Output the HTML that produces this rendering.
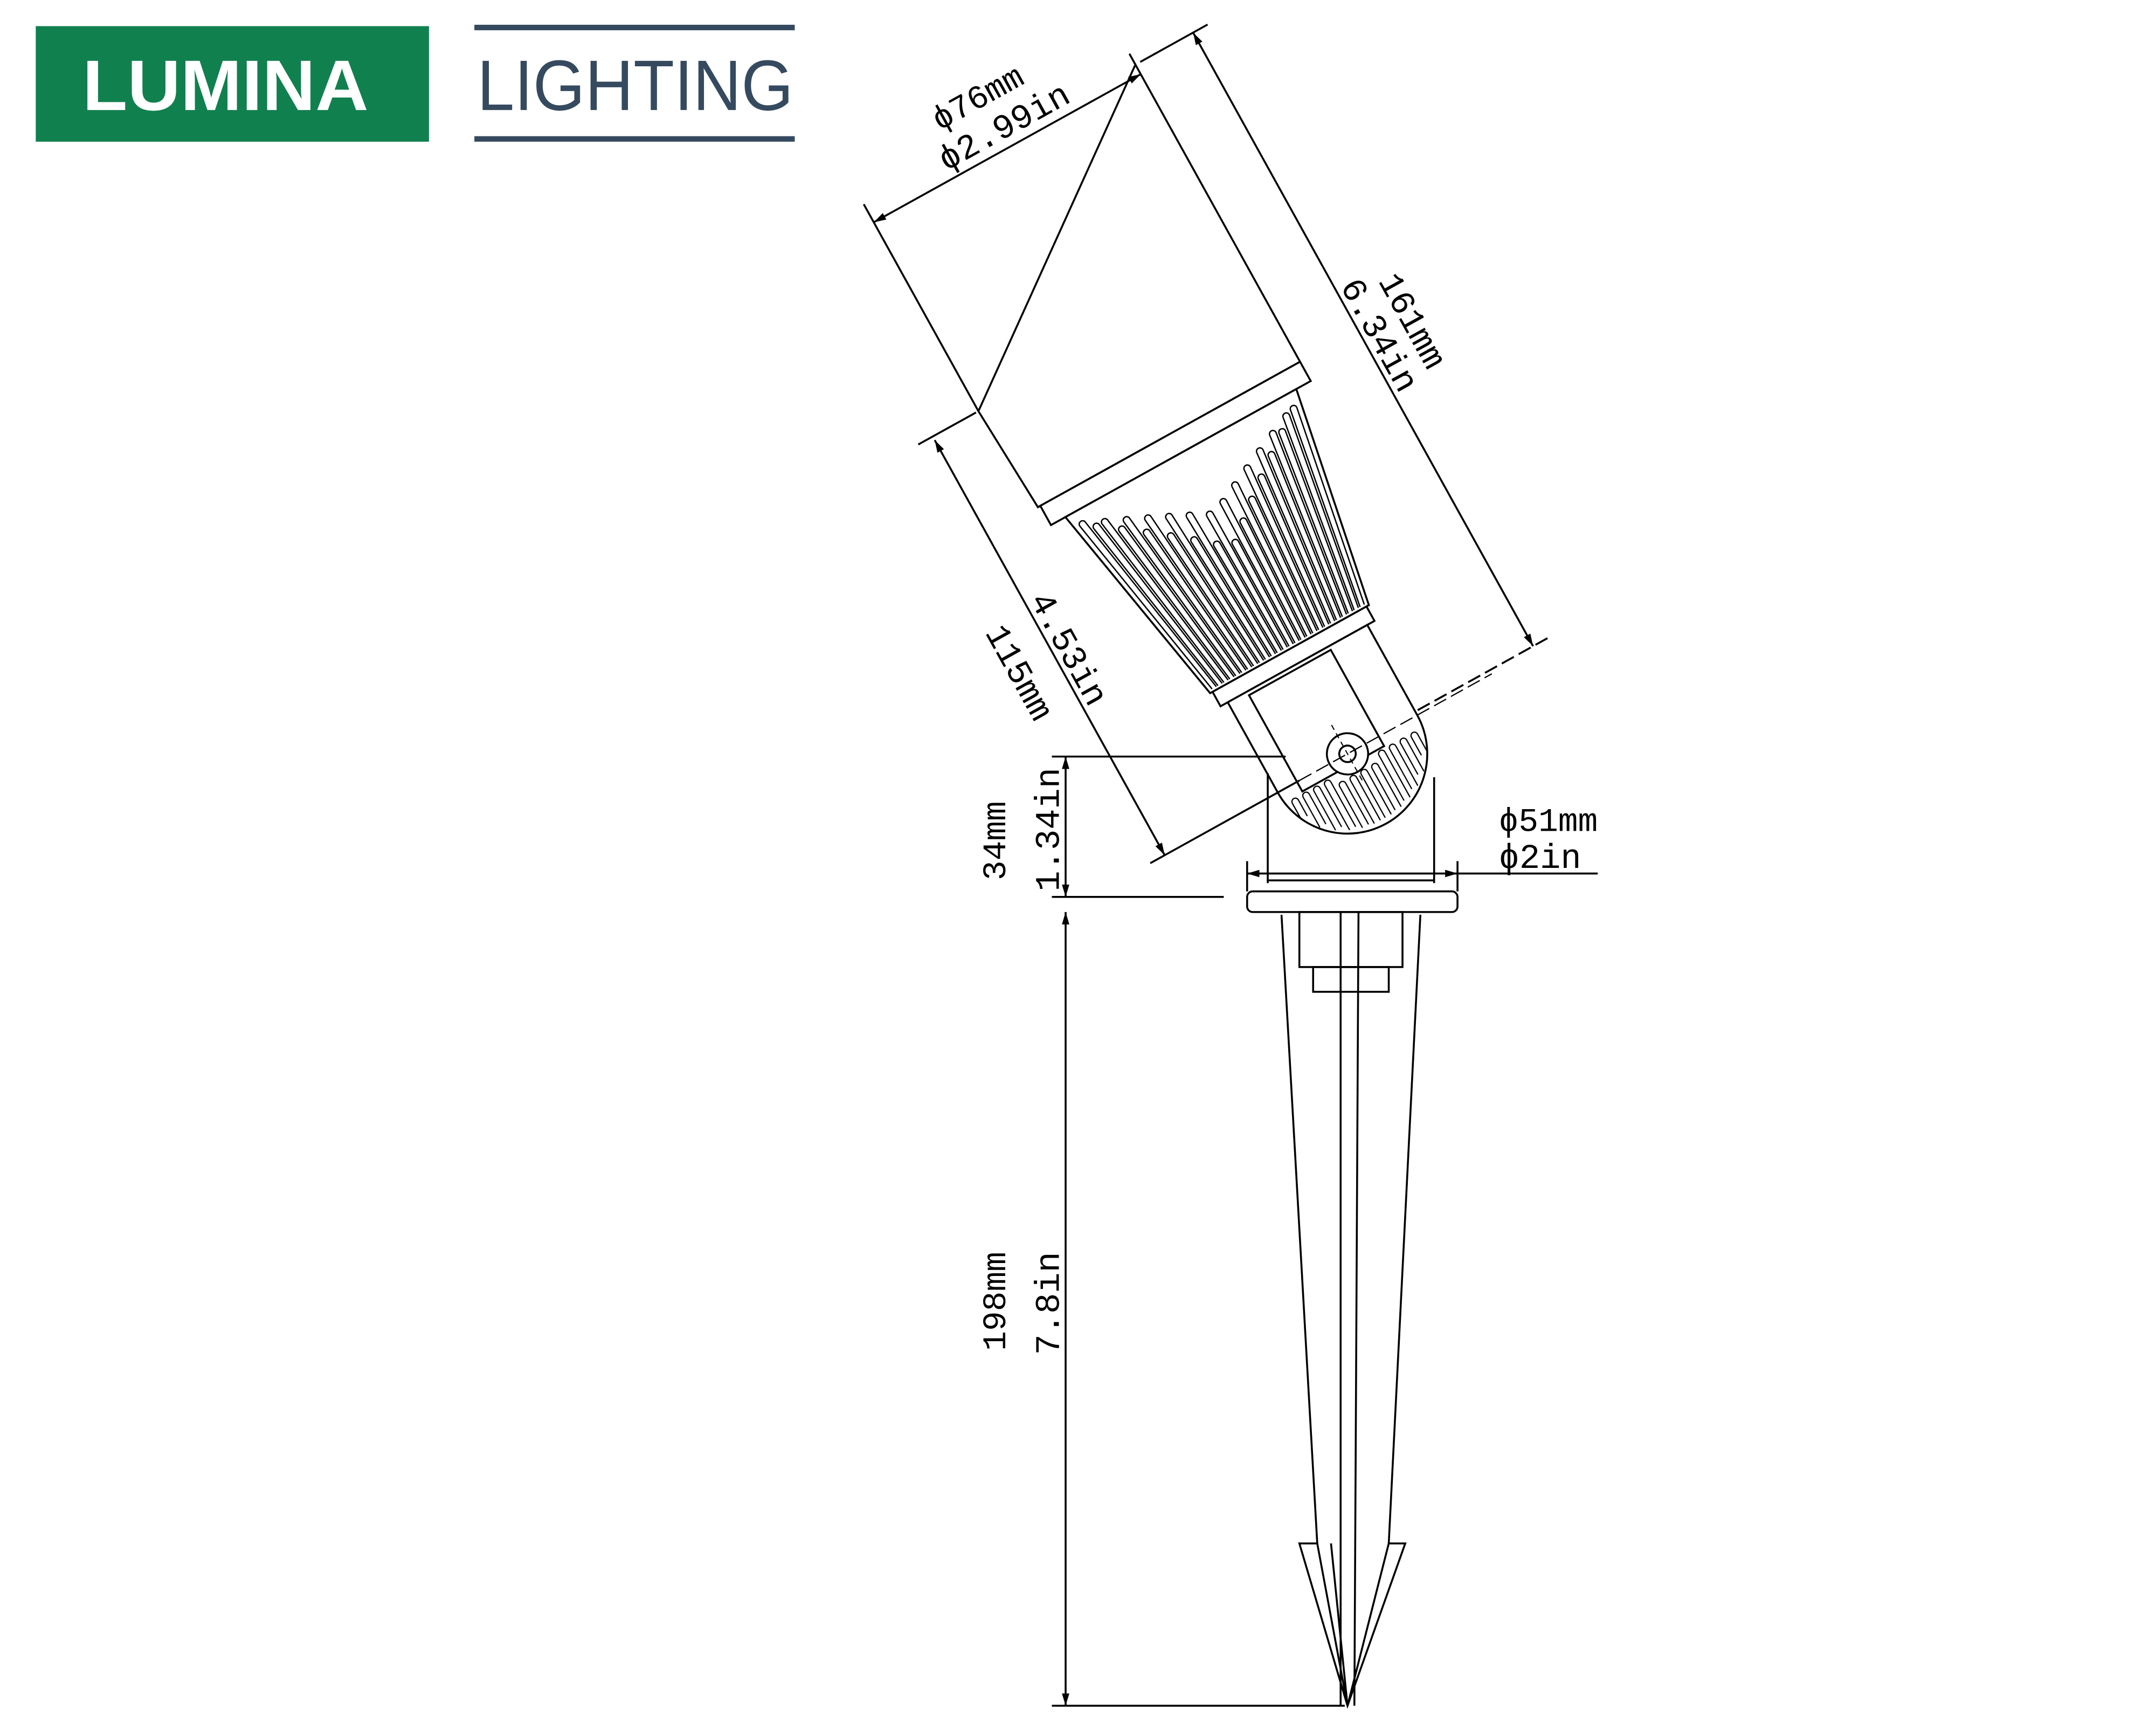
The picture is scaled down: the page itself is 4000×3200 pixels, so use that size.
<!DOCTYPE html>
<html><head><meta charset="utf-8"><style>
html,body{margin:0;padding:0;background:#fff;}
svg{display:block;}
text{font-family:"Liberation Mono",monospace;fill:#000;stroke:none;}
</style></head><body>
<svg id="s" xmlns="http://www.w3.org/2000/svg" width="4000" height="3200" viewBox="0 0 1568 1254" preserveAspectRatio="none">
<defs>
<marker id="ar" viewBox="0 0 10 10" refX="10" refY="5" markerWidth="9" markerHeight="9" markerUnits="userSpaceOnUse" orient="auto-start-reverse"><path d="M0,2 L10,5 L0,8 z" fill="#000"/></marker>
</defs>
<rect width="1568" height="1254" fill="#fff"/>
<!-- logo -->
<rect x="26" y="19" width="286" height="84" fill="#11804f"/>
<text x="60" y="80" style="font-family:'Liberation Sans',sans-serif;font-weight:bold;font-size:52px;fill:#fff" textLength="208" lengthAdjust="spacingAndGlyphs">LUMINA</text>
<rect x="345" y="18" width="233" height="4" fill="#354a5f"/>
<rect x="345" y="99" width="233" height="4" fill="#354a5f"/>
<text x="347" y="80" style="font-family:'Liberation Sans',sans-serif;font-size:52px;fill:#354a5f" textLength="230" lengthAdjust="spacingAndGlyphs">LIGHTING</text>

<g stroke="#000" stroke-width="1.4" fill="none">
<g transform="translate(980,548) rotate(-29)" id="lamp">
  <path d="M108,-513 L108,-266 L-110,-266 L-114,-348 Z" fill="#fff"/>
  <rect x="-108" y="-266" width="216" height="16" fill="#fff"/>
  <path d="M-96,-250 L96,-250 L66,-87 L-66,-87 Z" fill="#fff"/>
  <g id="fins"></g>
  <rect x="-64" y="-87" width="128" height="12" fill="#fff"/>
  <path d="M-58,-75 L58,-75 L58,0 A58,58 0 0 1 -58,0 Z" fill="#fff"/>
  <rect x="-42" y="-72" width="68" height="80"/>
  <g id="kfins"></g>
  <circle cx="0" cy="0" r="15" fill="#fff"/>
  <circle cx="0" cy="0" r="6"/>
  <line x1="0" y1="-24" x2="0" y2="24" stroke-dasharray="4,3" stroke-width="0.8"/>
  <line x1="-114" y1="-348" x2="-114" y2="-520"/>
  <line x1="108" y1="-513" x2="108" y2="-522"/>
  <line x1="-114" y1="-505" x2="108" y2="-505" marker-start="url(#ar)" marker-end="url(#ar)"/>
  <text x="-40" y="-540" font-size="24">ϕ76mm</text>
  <text x="-50" y="-512" font-size="25">ϕ2.99in</text>
  <line x1="112" y1="-513" x2="168" y2="-513"/>
  <line x1="156" y1="-513" x2="156" y2="-3" marker-start="url(#ar)" marker-end="url(#ar)"/>
  <line x1="60" y1="-3" x2="172" y2="-3" stroke-dasharray="10,4"/>
  <text transform="translate(186,-290) rotate(90)" font-size="25">161mm</text>
  <text transform="translate(160,-300) rotate(90)" font-size="25">6.34in</text>
  <line x1="-164" y1="-348" x2="-116" y2="-348"/>
  <line x1="-152" y1="-345" x2="-152" y2="0" marker-start="url(#ar)" marker-end="url(#ar)"/>
  <line x1="-164" y1="0" x2="-40" y2="0"/>
  <line x1="-40" y1="0" x2="120" y2="0" stroke-dasharray="10,4" stroke-width="0.9"/>
  <text transform="translate(-148,-210) rotate(90)" font-size="25">4.53in</text>
  <text transform="translate(-188,-205) rotate(90)" font-size="25">115mm</text>
</g>

<line x1="922" y1="562" x2="922" y2="642"/>
<line x1="1043" y1="565" x2="1043" y2="642"/>
<line x1="922" y1="640" x2="1043" y2="640"/>
<line x1="907" y1="626" x2="907" y2="648"/>
<line x1="1060" y1="626" x2="1060" y2="648"/>
<line x1="907" y1="635" x2="1060" y2="635" marker-start="url(#ar)" marker-end="url(#ar)"/>
<line x1="1060" y1="635" x2="1162" y2="635"/>
<text x="1090" y="604" font-size="24">ϕ51mm</text>
<text x="1090" y="631" font-size="25">ϕ2in</text>
<rect x="907" y="648" width="153" height="15" rx="4" fill="#fff"/>
<rect x="945" y="663" width="75" height="40"/>
<rect x="955" y="703" width="55" height="18"/>
<line x1="932" y1="665" x2="958" y2="1122"/>
<line x1="1033" y1="665" x2="1010" y2="1122"/>
<path d="M958,1122 L945,1122 L980,1240 L1022,1122 L1010,1122"/>
<line x1="958" y1="1122" x2="980" y2="1240"/>
<line x1="1010" y1="1122" x2="980" y2="1240"/>
<line x1="975" y1="663" x2="975" y2="1240"/>
<line x1="988" y1="663" x2="985" y2="1240"/>
<line x1="968" y1="1122" x2="980" y2="1240"/>
<line x1="765" y1="550" x2="935" y2="550"/>
<line x1="765" y1="652" x2="890" y2="652"/>
<line x1="775" y1="550" x2="775" y2="652" marker-start="url(#ar)" marker-end="url(#ar)"/>
<text transform="translate(731,640) rotate(-90)" font-size="24">34mm</text>
<text transform="translate(770,648) rotate(-90)" font-size="25">1.34in</text>
<line x1="765" y1="1240" x2="978" y2="1240"/>
<line x1="775" y1="663" x2="775" y2="1240" marker-start="url(#ar)" marker-end="url(#ar)"/>
<text transform="translate(731,982) rotate(-90)" font-size="24">198mm</text>
<text transform="translate(770,985) rotate(-90)" font-size="25">7.8in</text>
</g>
</svg>
<script>
(function(){
var NS="http://www.w3.org/2000/svg";
var g=document.getElementById("fins");
var n=26;
for(var i=0;i<n;i++){
  var t=-1+2*(i+0.5)/n;
  var x1=t*92, x2=t*64;
  var ytop=-250+ (1-Math.abs(t))*70*((i%2)?1:0.6)+4;
  var yt=Math.max(-248,Math.min(-160,ytop));
  var xa=x1+(x2-x1)*((yt+250)/163);
  var p=document.createElementNS(NS,"path");
  var w=2.5;
  p.setAttribute("d","M"+(xa-w)+","+(yt+5)+" L"+(x2-w*0.7)+",-89 M"+(xa+w)+","+(yt+5)+" L"+(x2+w*0.7)+",-89 M"+(xa-w)+","+(yt+5)+" A"+w+","+w+" 0 0 1 "+(xa+w)+","+(yt+5));
  p.setAttribute("stroke-width","1");
  g.appendChild(p);
}
var k=document.getElementById("kfins");
for(var j=0;j<12;j++){
  var x=-50+j*9;
  var ytop=(x>-20&&x<20)?18:12;
  var r=Math.sqrt(Math.max(0,58*58-x*x));
  var p2=document.createElementNS(NS,"path");
  p2.setAttribute("d","M"+(x-2.5)+","+(r-4)+" L"+(x-2.5)+","+ytop+" A2.5,2.5 0 0 1 "+(x+2.5)+","+ytop+" L"+(x+2.5)+","+(r-4));
  p2.setAttribute("stroke-width","0.9");
  k.appendChild(p2);
}
})();
</script>
</body></html>
